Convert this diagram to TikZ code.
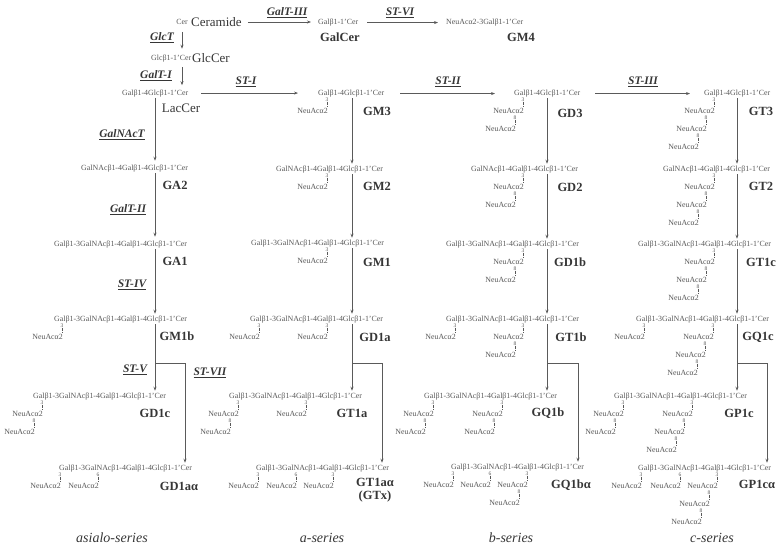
\documentclass[tikz,border=0pt]{standalone}
\usepackage{fontspec}
\setmainfont{Liberation Serif}
\usetikzlibrary{arrows.meta}
\definecolor{lc}{HTML}{5A5A5A}
\definecolor{tc}{HTML}{585858}
\definecolor{nc}{HTML}{363636}
\newcommand\Slong{Galβ1-3GalNAcβ1-4Galβ1-4Glcβ1-1'Cer}
\newcommand\Smed{GalNAcβ1-4Galβ1-4Glcβ1-1'Cer}
\newcommand\Sshort{Galβ1-4Glcβ1-1'Cer}
\newcommand\Sneu{NeuAcα2}
% #1 name, #2 x of linkage digit, #3 y of parent row, #4 digit
\newcommand\siaLink[4]{%
  \node[lnk] (#1d) at (#2,#3+6.3) {#4};
  \node[st,anchor=base east] (#1) at (#2+2,#3+20.5) {\Sneu};
  \draw[dots] (#1d.south) -- (#1d.south |- #1.north);
}
\begin{document}
\begin{tikzpicture}[x=1pt,y=-1pt,
 st/.style={font=\fontsize{7.9}{8}\selectfont,text=tc,inner sep=1pt},
 lnk/.style={font=\fontsize{5.5}{6}\selectfont,text=tc,inner sep=0.3pt},
 nm/.style={font=\fontsize{12.5}{13}\selectfont\bfseries,text=nc,inner sep=0pt},
 nmr/.style={font=\fontsize{13}{13}\selectfont,text=nc,inner sep=0pt},
 enz/.style={font=\fontsize{11.5}{12}\selectfont\bfseries\itshape,text=nc,inner sep=0pt},
 ser/.style={font=\fontsize{14}{15}\selectfont\itshape,text=nc,inner sep=0pt},
 ln/.style={draw=lc,line width=0.8pt},
 arr/.style={ln,-{Stealth[length=4pt,width=3pt]},shorten >=1pt},
 dots/.style={draw=tc,line width=0.5pt,dash pattern=on 0.5pt off 0.9pt},
]
\useasboundingbox (0,0) rectangle (781,558);
\coordinate (cL) at (155,0);
\coordinate (cA) at (352,0);
\coordinate (cB) at (547,0);
\coordinate (cC) at (737,0);

% ---------- top rows ----------
\node[st,anchor=base] (cer) at (182,24.5) {Cer};
\node[nmr,anchor=west] (ceramide) at (191,22) {Ceramide};
\node[st,anchor=base west] (galcer) at (317,24.5) {Galβ1-1'Cer};
\node[nm] (galcerN) at (340,37) {GalCer};
\node[st,anchor=base west] (gm4) at (445,24.5) {NeuAcα2-3Galβ1-1'Cer};
\node[nm] (gm4N) at (521,37) {GM4};
\node[enz] (galt3) at (287,13) {\underline{GalT-III}};
\node[enz] (st6) at (400,13) {\underline{ST-VI}};
\draw[arr,shorten <=6pt,shorten >=6pt] (ceramide.east) -- (ceramide.east -| galcer.west);
\draw[arr,shorten <=8pt,shorten >=7pt] (galcer.east) -- (galcer.east -| gm4.west);

\node[enz] (glct) at (162,38) {\underline{GlcT}};
\node[st,anchor=base west] (glccer) at (150,60.5) {Glcβ1-1'Cer};
\node[nmr] (glccerN) at (211,58) {GlcCer};
\node[enz] (galt1) at (156,76) {\underline{GalT-I}};
\node[st,anchor=base west] (laccer) at (121,95) {\Sshort};
\node[nmr] (laccerN) at (181,108) {LacCer};
\draw[arr,shorten <=6pt,shorten >=5pt] (cer.south) -- (cer.south |- glccer.north);
\draw[arr,shorten <=4pt,shorten >=3pt] (cer.south |- glccer.south) -- (cer.south |- laccer.north);

% ---------- asialo-series ----------
\node[enz] (galnact) at (122,135) {\underline{GalNAcT}};
\node[st,anchor=base west] (ga2) at (80,170.5) {\Smed};
\node[nm] (ga2N) at (175,185) {GA2};
\node[enz] (galt2) at (128,210) {\underline{GalT-II}};
\node[st,anchor=base west] (ga1) at (53,246.5) {\Slong};
\node[nm] (ga1N) at (175,261) {GA1};
\node[enz] (st4) at (132,285) {\underline{ST-IV}};
\node[st,anchor=base west] (gm1b) at (53,321.5) {\Slong};
\siaLink{gm1bA}{62}{319}{3}
\node[nm] (gm1bN) at (177,336) {GM1b};
\node[enz] (st5) at (135,370) {\underline{ST-V}};
\node[enz] (st7) at (210,373) {\underline{ST-VII}};
\node[st,anchor=base west] (gd1c) at (32,398.5) {\Slong};
\siaLink{gd1cA}{42}{396}{3}
\siaLink{gd1cB}{34}{414}{8}
\node[nm] (gd1cN) at (155,413) {GD1c};
\node[st,anchor=base west] (gd1aa) at (58,470.5) {\Slong};
\siaLink{gd1aaA}{60}{468}{3}
\siaLink{gd1aaB}{98}{468}{6}
\node[nm] (gd1aaN) at (179,486) {GD1aα};

\draw[arr,shorten >=3pt] (laccer.south -| cL) -- (ga2.north -| cL);
\draw[arr,shorten >=3pt] (ga2.south -| cL) -- (ga1.north -| cL);
\draw[arr] (ga1.south -| cL) -- (gm1b.north -| cL);
\draw[arr] (gm1b.south -| cL) -- (gd1c.north -| cL);
\coordinate (jL) at (155,363);
\coordinate (jLx) at (185,363);
\draw[arr] (jL) -- (jLx) -- (jLx |- gd1aa.north);

% ---------- a-series ----------
\node[enz] (st1) at (246,82) {\underline{ST-I}};
\node[st,anchor=base west] (gm3) at (317,95.5) {\Sshort};
\siaLink{gm3A}{327}{93}{3}
\node[nm] (gm3N) at (377,111) {GM3};
\node[st,anchor=base west] (gm2) at (275,171.5) {\Smed};
\siaLink{gm2A}{327}{169}{3}
\node[nm] (gm2N) at (377,186) {GM2};
\node[st,anchor=base west] (gm1) at (250,245.5) {\Slong};
\siaLink{gm1A}{327}{243}{3}
\node[nm] (gm1N) at (377,262) {GM1};
\node[st,anchor=base west] (gd1a) at (249,321.5) {\Slong};
\siaLink{gd1aA}{259}{319}{3}
\siaLink{gd1aB}{327}{319}{3}
\node[nm] (gd1aN) at (375,337) {GD1a};
\node[st,anchor=base west] (gt1a) at (228,398.5) {\Slong};
\siaLink{gt1aA}{238}{396}{3}
\siaLink{gt1aB}{230}{414}{8}
\siaLink{gt1aC}{306}{396}{3}
\node[nm] (gt1aN) at (352,413) {GT1a};
\node[st,anchor=base west] (gt1aa) at (255,470.5) {\Slong};
\siaLink{gt1aaA}{258}{468}{3}
\siaLink{gt1aaB}{296}{468}{6}
\siaLink{gt1aaC}{333}{468}{3}
\node[nm,align=center] (gt1aaN) at (375,490.5) {GT1aα\\(GTx)};

\draw[arr,shorten <=12pt,shorten >=19pt] (laccer.east) -- (laccer.east -| gm3.west);
\draw[arr] (gm3.south -| cA) -- (gm2.north -| cA);
\draw[arr] (gm2.south -| cA) -- (gm1.north -| cA);
\draw[arr] (gm1.south -| cA) -- (gd1a.north -| cA);
\draw[arr] (gd1a.south -| cA) -- (gt1a.north -| cA);
\coordinate (jA) at (352,363);
\coordinate (jAx) at (382,363);
\draw[arr] (jA) -- (jAx) -- (jAx |- gt1aa.north);

% ---------- b-series ----------
\node[enz] (st2) at (448,82) {\underline{ST-II}};
\node[st,anchor=base west] (gd3) at (513,95.5) {\Sshort};
\siaLink{gd3A}{523}{93}{3}
\siaLink{gd3B}{515}{111}{8}
\node[nm] (gd3N) at (570,113) {GD3};
\node[st,anchor=base west] (gd2) at (470,171.5) {\Smed};
\siaLink{gd2A}{523}{169}{3}
\siaLink{gd2B}{515}{187}{8}
\node[nm] (gd2N) at (570,187) {GD2};
\node[st,anchor=base west] (gd1b) at (445,246.5) {\Slong};
\siaLink{gd1bA}{523}{244}{3}
\siaLink{gd1bB}{515}{262}{8}
\node[nm] (gd1bN) at (570,262) {GD1b};
\node[st,anchor=base west] (gt1b) at (445,321.5) {\Slong};
\siaLink{gt1bA}{455}{319}{3}
\siaLink{gt1bB}{523}{319}{3}
\siaLink{gt1bC}{515}{337}{8}
\node[nm] (gt1bN) at (571,337) {GT1b};
\node[st,anchor=base west] (gq1b) at (423,398.5) {\Slong};
\siaLink{gq1bA}{433}{396}{3}
\siaLink{gq1bB}{425}{414}{8}
\siaLink{gq1bC}{502}{396}{3}
\siaLink{gq1bD}{494}{414}{8}
\node[nm] (gq1bN) at (548,413) {GQ1b};
\node[st,anchor=base west] (gq1ba) at (450,469.5) {\Slong};
\siaLink{gq1baA}{453}{467}{3}
\siaLink{gq1baB}{490}{467}{6}
\siaLink{gq1baC}{527}{467}{3}
\siaLink{gq1baD}{519}{485}{8}
\node[nm] (gq1baN) at (571,485) {GQ1bα};

\draw[arr,shorten <=15pt,shorten >=18pt] (gm3.east) -- (gm3.east -| gd3.west);
\draw[arr] (gd3.south -| cB) -- (gd2.north -| cB);
\draw[arr] (gd2.south -| cB) -- (gd1b.north -| cB);
\draw[arr] (gd1b.south -| cB) -- (gt1b.north -| cB);
\draw[arr] (gt1b.south -| cB) -- (gq1b.north -| cB);
\coordinate (jB) at (547,363);
\coordinate (jBx) at (578,363);
\draw[arr] (jB) -- (jBx) -- (jBx |- gq1ba.north);

% ---------- c-series ----------
\node[enz] (st3) at (643,82) {\underline{ST-III}};
\node[st,anchor=base west] (gt3) at (703,95.5) {\Sshort};
\siaLink{gt3A}{714}{93}{3}
\siaLink{gt3B}{706}{111}{8}
\siaLink{gt3C}{698}{129}{8}
\node[nm] (gt3N) at (761,111) {GT3};
\node[st,anchor=base west] (gt2) at (662,171.5) {\Smed};
\siaLink{gt2A}{714}{169}{3}
\siaLink{gt2B}{706}{187}{8}
\siaLink{gt2C}{698}{205}{8}
\node[nm] (gt2N) at (761,186) {GT2};
\node[st,anchor=base west] (gt1c) at (637,246.5) {\Slong};
\siaLink{gt1cA}{714}{244}{3}
\siaLink{gt1cB}{706}{262}{8}
\siaLink{gt1cC}{698}{280}{8}
\node[nm] (gt1cN) at (761,262) {GT1c};
\node[st,anchor=base west] (gq1c) at (635,321.5) {\Slong};
\siaLink{gq1cA}{644}{319}{3}
\siaLink{gq1cB}{713}{319}{3}
\siaLink{gq1cC}{705}{337}{8}
\siaLink{gq1cD}{697}{355}{8}
\node[nm] (gq1cN) at (758,337) {GQ1c};
\node[st,anchor=base west] (gp1c) at (613,398.5) {\Slong};
\siaLink{gp1cA}{623}{396}{3}
\siaLink{gp1cB}{615}{414}{8}
\siaLink{gp1cC}{692}{396}{3}
\siaLink{gp1cD}{684}{414}{8}
\siaLink{gp1cE}{676}{432}{8}
\node[nm] (gp1cN) at (739,413) {GP1c};
\node[st,anchor=base west] (gp1ca) at (637,470.5) {\Slong};
\siaLink{gp1caA}{641}{468}{3}
\siaLink{gp1caB}{680}{468}{6}
\siaLink{gp1caC}{717}{468}{3}
\siaLink{gp1caD}{709}{486}{8}
\siaLink{gp1caE}{701}{504}{8}
\node[nm] (gp1caN) at (757,484) {GP1cα};

\draw[arr,shorten <=14pt,shorten >=13pt] (gd3.east) -- (gd3.east -| gt3.west);
\draw[arr] (gt3.south -| cC) -- (gt2.north -| cC);
\draw[arr] (gt2.south -| cC) -- (gt1c.north -| cC);
\draw[arr] (gt1c.south -| cC) -- (gq1c.north -| cC);
\draw[arr] (gq1c.south -| cC) -- (gp1c.north -| cC);
\coordinate (jC) at (737,363);
\coordinate (jCx) at (767,363);
\draw[arr] (jC) -- (jCx) -- (jCx |- gp1ca.north);

% ---------- series labels ----------
\node[ser] (serA) at (112,538) {asialo-series};
\node[ser] (serB) at (322,538) {a-series};
\node[ser] (serC) at (511,538) {b-series};
\node[ser] (serD) at (712,538) {c-series};
\end{tikzpicture}
\end{document}
